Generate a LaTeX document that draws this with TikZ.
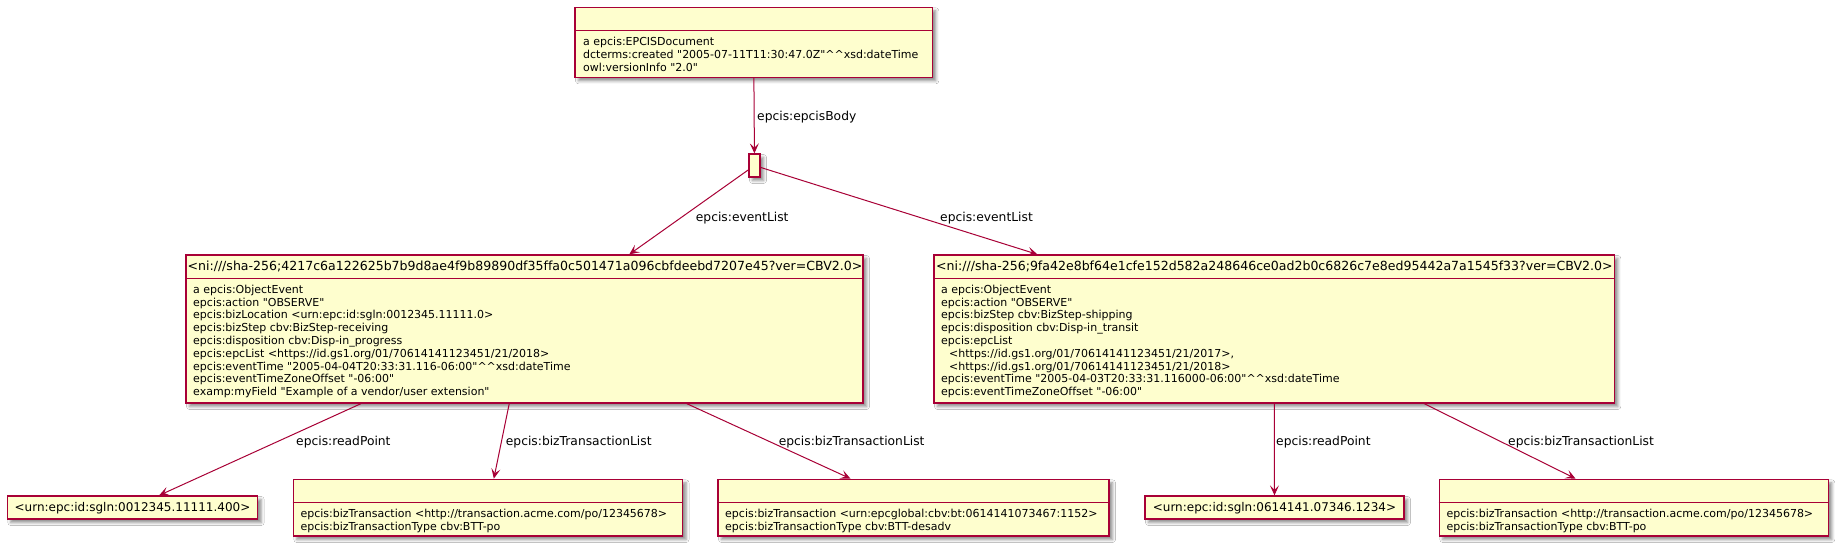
\documentclass[tikz,border=0pt]{standalone}
\usepackage{fontspec}
\setmainfont{DejaVu Sans}[Ligatures={TeXOff,NoCommon}]
\usetikzlibrary{arrows.meta,shadows.blur}
\definecolor{umlfill}{HTML}{FEFECE}
\definecolor{umlline}{HTML}{A80036}
\newcommand{\cc}{\textasciicircum\textasciicircum}
\tikzset{
  objbox/.style={rectangle, draw=umlline, fill=umlfill, line width=1.3pt, inner sep=0pt,
    blur shadow={shadow xshift=3.5pt, shadow yshift=-3.5pt, shadow blur radius=3pt, shadow opacity=45}},
  sepline/.style={draw=umlline, line width=1.3pt},
  link/.style={draw=umlline, line width=1pt, -{Stealth[length=10pt,width=9pt,inset=4.5pt]}},
  lbl/.style={font=\fontsize{12.3}{14}\selectfont, inner sep=0pt, anchor=base west},
  hdr/.style={font=\fontsize{12}{14}\selectfont, inner sep=0pt, anchor=base},
  bighdr/.style={font=\fontsize{12.55}{14}\selectfont, inner sep=0pt, anchor=base},
  bodytext/.style={font=\fontsize{11}{12.8}\selectfont, inner sep=0pt, anchor=base west},
}
\begin{document}
\begin{tikzpicture}[x=1pt,y=-1pt]
\useasboundingbox[fill=white] (0,0) rectangle (1841,549);

% boxes
\node[objbox, minimum width=357.3pt, minimum height=70pt] (doc) at (753.65,42.3) {};
\node[objbox, minimum width=11pt, minimum height=23pt] (bn) at (754.5,165.5) {};
\node[objbox, minimum width=677pt, minimum height=148pt] (ev1) at (524.5,329) {};
\node[objbox, minimum width=680.3pt, minimum height=148pt] (ev2) at (1274.15,329) {};
\node[objbox, minimum width=250.4pt, minimum height=23pt] (rp1) at (132.5,507.5) {};
\node[objbox, minimum width=389.2pt, minimum height=56.7pt] (bt1) at (487.9,507.65) {};
\node[objbox, minimum width=391pt, minimum height=56.7pt] (bt2) at (913.5,507.65) {};
\node[objbox, minimum width=259pt, minimum height=23pt] (rp2) at (1274.5,507.5) {};
\node[objbox, minimum width=389pt, minimum height=56.7pt] (bt3) at (1633.8,507.65) {};

% separators
\draw[sepline] (doc.west |- 0,30.7) -- (doc.east |- 0,30.7);
\draw[sepline] (ev1.west |- 0,278.2) -- (ev1.east |- 0,278.2);
\draw[sepline] (ev2.west |- 0,278.2) -- (ev2.east |- 0,278.2);
\draw[sepline] (bt1.west |- 0,502.3) -- (bt1.east |- 0,502.3);
\draw[sepline] (bt2.west |- 0,502.3) -- (bt2.east |- 0,502.3);
\draw[sepline] (bt3.west |- 0,502.3) -- (bt3.east |- 0,502.3);

% headers
\node[bighdr] (ev1h) at (525,270.7) {<ni:///sha-256;4217c6a122625b7b9d8ae4f9b89890df35ffa0c501471a096cbfdeebd7207e45?ver=CBV2.0>};
\node[bighdr] (ev2h) at (1274.5,270.7) {<ni:///sha-256;9fa42e8bf64e1cfe152d582a248646ce0ad2b0c6826c7e8ed95442a7a1545f33?ver=CBV2.0>};
\node[hdr] (rp1h) at (132.5,511.7) {<urn:epc:id:sgln:0012345.11111.400>};
\node[hdr] (rp2h) at (1274.5,511.7) {<urn:epc:id:sgln:0614141.07346.1234>};

% bodies
\node[bodytext] (docb) at (583,45.7) {\begin{tabular}[t]{@{}l@{}}
a epcis:EPCISDocument\\
dcterms:created "2005-07-11T11:30:47.0Z"\cc xsd:dateTime\\
owl:versionInfo "2.0"
\end{tabular}};
\node[bodytext] (ev1b) at (193,293.2) {\begin{tabular}[t]{@{}l@{}}
a epcis:ObjectEvent\\
epcis:action "OBSERVE"\\
epcis:bizLocation <urn:epc:id:sgln:0012345.11111.0>\\
epcis:bizStep cbv:BizStep-receiving\\
epcis:disposition cbv:Disp-in\_progress\\
epcis:epcList <https://id.gs1.org/01/70614141123451/21/2018>\\
epcis:eventTime "2005-04-04T20:33:31.116-06:00"\cc xsd:dateTime\\
epcis:eventTimeZoneOffset "-06:00"\\
examp:myField "Example of a vendor/user extension"
\end{tabular}};
\node[bodytext] (ev2b) at (941,293.2) {\begin{tabular}[t]{@{}l@{}}
a epcis:ObjectEvent\\
epcis:action "OBSERVE"\\
epcis:bizStep cbv:BizStep-shipping\\
epcis:disposition cbv:Disp-in\_transit\\
epcis:epcList\\
\hspace*{8pt}<https://id.gs1.org/01/70614141123451/21/2017>,\\
\hspace*{8pt}<https://id.gs1.org/01/70614141123451/21/2018>\\
epcis:eventTime "2005-04-03T20:33:31.116000-06:00"\cc xsd:dateTime\\
epcis:eventTimeZoneOffset "-06:00"
\end{tabular}};
\node[bodytext] (bt1b) at (300.3,517.3) {\begin{tabular}[t]{@{}l@{}}
epcis:bizTransaction <http://transaction.acme.com/po/12345678>\\
epcis:bizTransactionType cbv:BTT-po
\end{tabular}};
\node[bodytext] (bt2b) at (725,517.3) {\begin{tabular}[t]{@{}l@{}}
epcis:bizTransaction <urn:epcglobal:cbv:bt:0614141073467:1152>\\
epcis:bizTransactionType cbv:BTT-desadv
\end{tabular}};
\node[bodytext] (bt3b) at (1446.3,517.3) {\begin{tabular}[t]{@{}l@{}}
epcis:bizTransaction <http://transaction.acme.com/po/12345678>\\
epcis:bizTransactionType cbv:BTT-po
\end{tabular}};

% connectors
\draw[link] (doc) -- (bn);
\draw[link] (bn) -- (ev1);
\draw[link] (bn) -- (ev2);
\draw[link] (ev1) -- (rp1);
\draw[link] (ev1) -- (bt1);
\draw[link] (ev1) -- (bt2);
\draw[link] (ev2) -- (rp2);
\draw[link] (ev2) -- (bt3);

% connector labels
\node[lbl] (l1) at (757,120) {epcis:epcisBody};
\node[lbl] (l2) at (695.7,221) {epcis:eventList};
\node[lbl] (l3) at (940,221) {epcis:eventList};
\node[lbl] (l4) at (296,445) {epcis:readPoint};
\node[lbl] (l5) at (505.7,445) {epcis:bizTransactionList};
\node[lbl] (l6) at (778.6,445) {epcis:bizTransactionList};
\node[lbl] (l7) at (1276,445) {epcis:readPoint};
\node[lbl] (l8) at (1508,445) {epcis:bizTransactionList};
\end{tikzpicture}
\end{document}
